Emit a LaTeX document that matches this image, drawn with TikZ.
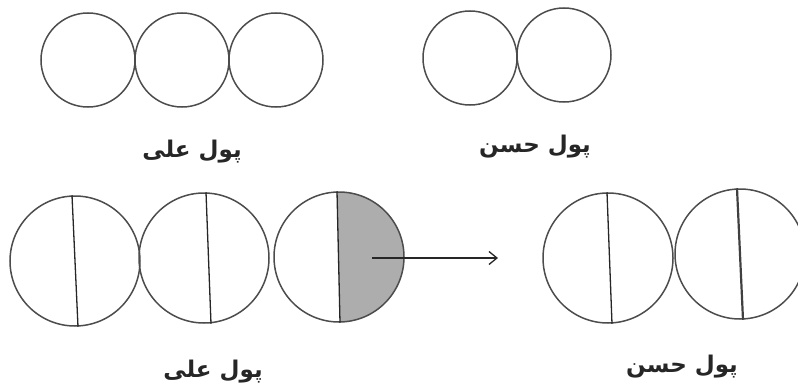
\documentclass[tikz,border=0pt]{standalone}
\usepackage{fontspec}
\TeXXeTstate=1
\newfontfamily\arabicfont[Script=Arabic]{DejaVu Sans}
\usetikzlibrary{arrows.meta,calc}
\begin{document}
\begin{tikzpicture}[x=1pt,y=-1pt,
  coin/.style={circle,draw=black!70,line width=1.5pt,inner sep=0pt,minimum size=#1},
  coin/.default=94pt,
  half/.style={draw=black!85,line width=1.3pt},
  lbl/.style={font=\arabicfont\bfseries\fontsize{23}{26}\selectfont,text=black!85,inner sep=0pt}]
\useasboundingbox (0,0) rectangle (798,388);
% top row
\node[coin] (a1) at (88,60) {};
\node[coin] (a2) at (182,60) {};
\node[coin] (a3) at (276,60) {};
\node[lbl] (la) at (192,152) {\beginR پول علی\endR};
\node[coin] (h1) at (470,58) {};
\node[coin] (h2) at (564,55) {};
\node[lbl] (lh) at (535,147) {\beginR پول حسن\endR};
% bottom row
\begin{scope}
\clip (339,257) circle (65);
\fill[black!32] (336.5,180) -- (340.5,340) -- (420,340) -- (420,180) -- cycle;
\end{scope}
\node[coin=130pt] (b1) at (75,261) {};
\node[coin=130pt] (b2) at (204,258) {};
\node[coin=130pt] (b3) at (339,257) {};
\node[coin=130pt] (g1) at (608,258) {};
\node[coin=130pt] (g2) at (740,254) {};
\draw[half] ($(b1.north)+(-3,0)$) -- ($(b1.south)+(3,0)$);
\draw[half] ($(b2.north)+(2,0)$) -- ($(b2.south)+(7,0)$);
\draw[half] ($(b3.north)+(-2,0)$) -- ($(b3.south)+(1,0)$);
\draw[half] ($(g1.north)+(-1,0)$) -- ($(g1.south)+(4,0)$);
\draw[half,line width=2.2pt,draw=black!75] ($(g2.north)+(-3,0)$) -- ($(g2.south)+(3,0)$);
\coordinate (as) at (372,258);
\coordinate (ae) at (498,258);
\draw[line width=1.3pt,draw=black!85,-{Straight Barb[length=8pt,width=13pt]}] (as) -- (ae);
\node[lbl] (lb) at (213,372) {\beginR پول علی\endR};
\node[lbl] (lg) at (682,367) {\beginR پول حسن\endR};
\end{tikzpicture}
\end{document}
